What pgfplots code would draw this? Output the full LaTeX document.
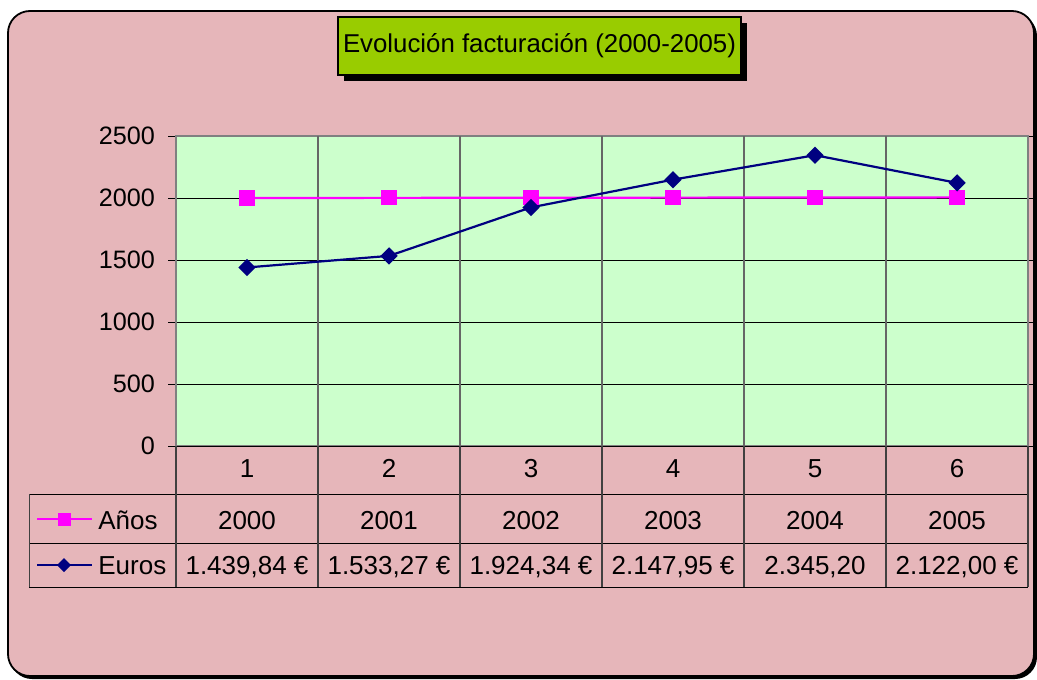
\documentclass[border=0pt]{standalone}
\usepackage{pgfplots}
\pgfplotsset{compat=1.18}
\usepackage{fontspec}
\setmainfont{Liberation Sans}

\definecolor{bgpink}{HTML}{E6B6BA}
\definecolor{plotgreen}{HTML}{CCFFCC}
\definecolor{titlegreen}{HTML}{99CC00}
\definecolor{navyblue}{HTML}{000080}
\definecolor{pinkline}{HTML}{FF00FF}

\begin{document}
\begin{tikzpicture}[x=0.5pt,y=-0.5pt]
  % page = 1037x679 px, 1px = 0.5pt
  \useasboundingbox (0,0) rectangle (1037,679);
  \fill[white] (0,0) rectangle (1037,679);
  \fill[black, rounded corners=11pt] (10,14) rectangle (1037,679);
  \filldraw[fill=bgpink, draw=black, line width=0.9pt, rounded corners=11pt]
    (8,11) rectangle (1034,676);

  % title box
  \fill[black] (344,23) rectangle (747,81);
  \filldraw[fill=titlegreen, draw=black, line width=1pt] (338,17) rectangle (741,75);
  \node[font=\fontsize{12.9}{15}\selectfont] at (539.5,46) {Evolución facturación (2000-2005)};

  \begin{axis}[
      at={(88pt,-223pt)}, anchor=south west,
      scale only axis, width=426pt, height=155pt,
      xmin=0.5, xmax=6.5, ymin=0, ymax=2500,
      axis background/.style={fill=plotgreen},
      axis line style={draw=black!50, line width=1.1pt},
      xtick=\empty,
      extra x ticks={1.5,2.5,3.5,4.5,5.5},
      extra x tick labels={},
      extra x tick style={grid=major, major tick length=0pt,
        major grid style={draw=black!60, line width=0.8pt}},
      ytick={0,500,1000,1500,2000,2500},
      ymajorgrids,
      y grid style={black, line width=0.5pt},
      ytick align=outside,
      ytick style={black, line width=0.5pt},
      major tick length=4pt,
      yticklabel style={font=\fontsize{12.6}{14}\selectfont, xshift=-3pt},
      /pgf/number format/assume math mode=true,
      /pgf/number format/1000 sep={},
      clip=false,
    ]
    \addplot[pinkline, line width=1.1pt, mark=square*, mark size=3.25pt,
      mark options={fill=pinkline, draw=pinkline}]
      coordinates {(1,2000) (2,2001) (3,2002) (4,2003) (5,2004) (6,2005)};
    \addplot[navyblue, line width=1.1pt, mark=square*, mark size=2.5pt,
      mark options={fill=navyblue, draw=navyblue, rotate=45}]
      coordinates {(1,1439.84) (2,1533.27) (3,1924.34) (4,2147.95) (5,2345.20) (6,2122.00)};
  \end{axis}

  % data table under the plot
  \draw[black, line width=0.5pt] (176,446) -- (1028,446);
  \draw[black, line width=0.5pt] (29,494) -- (1028,494);
  \draw[black, line width=0.5pt] (29,543) -- (1028,543);
  \draw[black, line width=0.5pt] (29,587) -- (1028,587);
  \draw[black!75, line width=0.5pt] (29,494) -- (29,587);
  \foreach \cx in {176,318,460,602,744,886,1028}
    \draw[black!75, line width=0.6pt] (\cx,446) -- (\cx,587);

  % legend keys
  \draw[pinkline, line width=1.1pt] (37,519) -- (92,519);
  \fill[pinkline] (57.5,512.5) rectangle (70.5,525.5);
  \draw[navyblue, line width=1.1pt] (37,565) -- (92,565);
  \fill[navyblue] (64,558) -- (71,565) -- (64,572) -- (57,565) -- cycle;
  \begin{scope}[every node/.style={font=\fontsize{13}{15}\selectfont, anchor=base, inner sep=0pt}]
    \node[anchor=base west] at (98,529) {Años};
    \node[anchor=base west] at (98,574) {Euros};
    \foreach \cx/\n/\yr/\eur in {247/1/2000/{1.439,84 €}, 389/2/2001/{1.533,27 €},
        531/3/2002/{1.924,34 €}, 673/4/2003/{2.147,95 €}, 815/5/2004/{2.345,20},
        957/6/2005/{2.122,00 €}} {
      \node at (\cx,477) {\n};
      \node at (\cx,529) {\yr};
      \node at (\cx,574) {\eur};
    }
  \end{scope}
\end{tikzpicture}
\end{document}
